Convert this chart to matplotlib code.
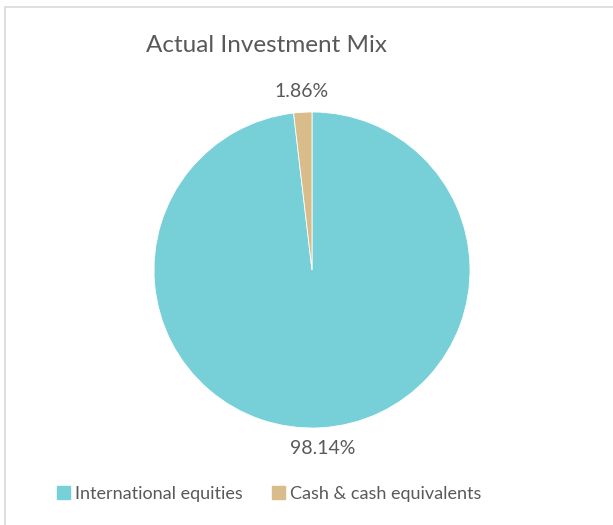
import matplotlib
matplotlib.use("Agg")
import matplotlib.pyplot as plt
import matplotlib.patches as mpatches

plt.rcParams["font.family"] = ["Lato", "DejaVu Sans"]

labels = ["International equities", "Cash & cash equivalents"]
shares = [98.14, 1.86]
colors = ["#77CFD8", "#D8BC8A"]
TEXT = "#595959"

W, H = 613, 525
fig = plt.figure(figsize=(W / 100, H / 100), dpi=100)
fig.patch.set_facecolor("white")

# chart frame, running off the right and bottom edges
fig.patches.append(mpatches.Rectangle((5 / W, -0.1), 1.2, 1.1 - 7 / H,
                                      transform=fig.transFigure,
                                      fill=False, edgecolor="#D9D9D9",
                                      linewidth=1.2))

# pie axes sized in pixels: centre (312, 270), radius 158
cx, cy, r = 312, 270, 158
ax = fig.add_axes([(cx - r) / W, (H - cy - r) / H, 2 * r / W, 2 * r / H])
wedges, _, autotexts = ax.pie(shares, colors=colors, startangle=90,
                              counterclock=False, radius=1.0,
                              autopct="%1.2f%%", pctdistance=1.13,
                              wedgeprops=dict(linewidth=0.6, edgecolor="white"),
                              textprops=dict(color=TEXT, fontsize=14))
ax.set_xlim(-1, 1)
ax.set_ylim(-1, 1)
ax.set_aspect("equal")
ax.axis("off")

fig.text(266 / W, 1 - 45 / H, "Actual Investment Mix", ha="center", va="center",
         fontsize=17.5, color=TEXT)

handles = [mpatches.Patch(color=c, label=l) for c, l in zip(colors, labels)]
fig.legend(handles=handles, loc="center", bbox_to_anchor=(269 / W, 1 - 494 / H),
           ncol=2, frameon=False, fontsize=13, handlelength=0.75, handleheight=0.75,
           handletextpad=0.25, columnspacing=1.6, labelcolor=TEXT)

fig.savefig("out.png", dpi=100)
